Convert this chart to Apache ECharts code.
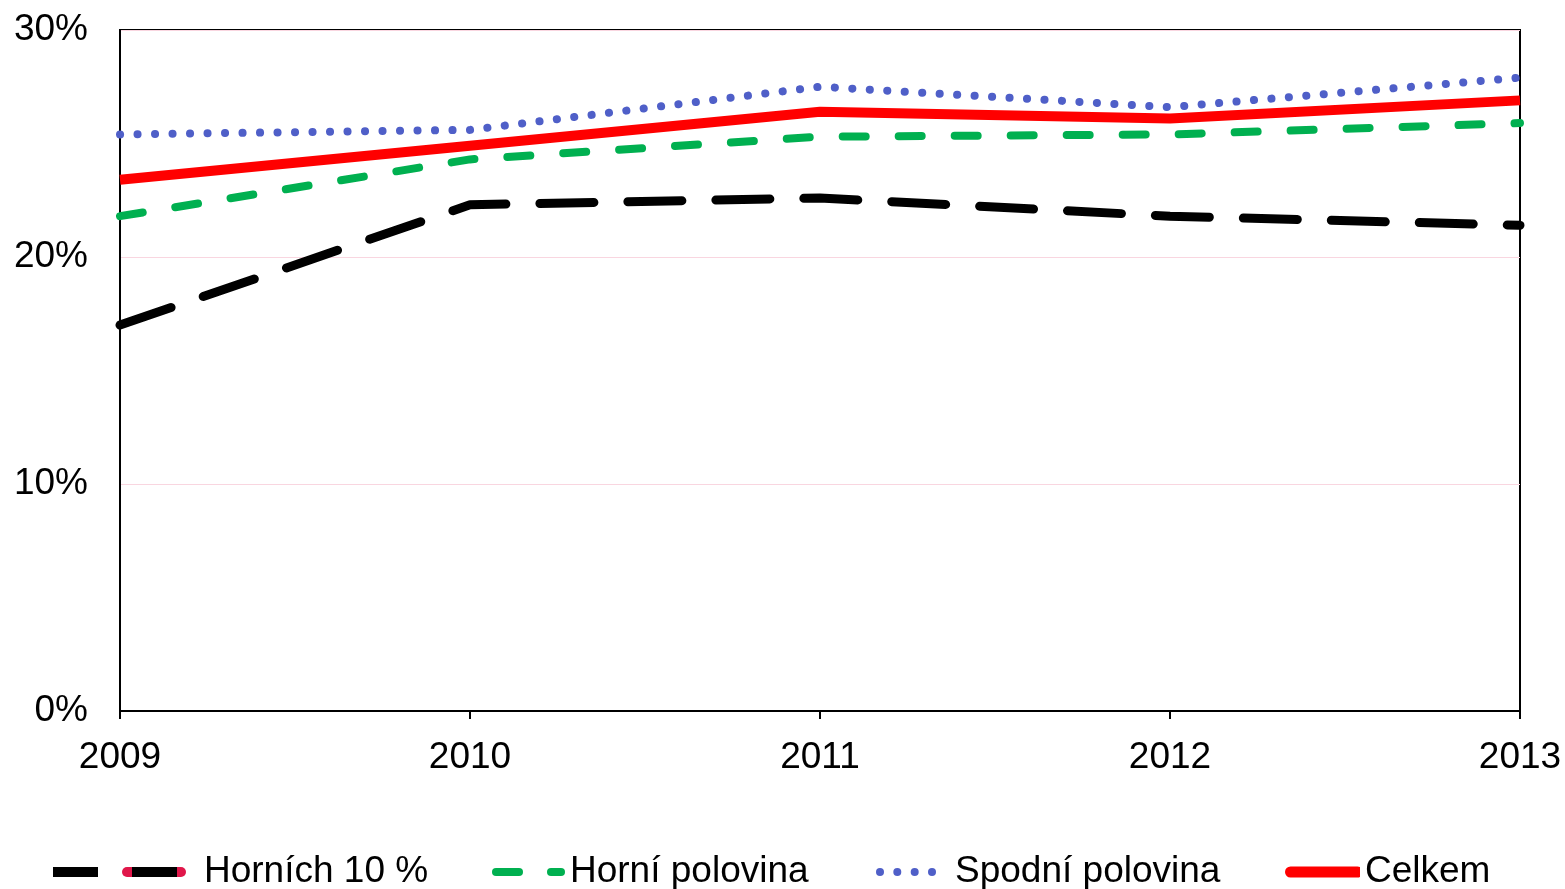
<!DOCTYPE html>
<html>
<head>
<meta charset="utf-8">
<script src="https://cdn.jsdelivr.net/npm/echarts@6/dist/echarts.min.js"></script>
<style>
  html, body { margin: 0; padding: 0; background: #fff; }
  #chart { width: 1565px; height: 889px; }
</style>
</head>
<body>
<div id="chart"></div>
<script>
// data (percent)
const years = ['2009', '2010', '2011', '2012', '2013']
const top10 = [17.0, 22.3, 22.6, 21.8, 21.4]
const upperHalf = [21.8, 24.3, 25.3, 25.4, 25.9]
const lowerHalf = [25.4, 25.6, 27.5, 26.6, 27.9]
const total = [23.4, 24.9, 26.4, 26.1, 26.9]

const font = 'Liberation Sans, Arial, sans-serif'

// legend icons drawn as little svg images
function svgIcon(w, h, body) {
  const svg = '<svg xmlns="http://www.w3.org/2000/svg" width="' + w + '" height="' + h +
    '" viewBox="0 0 ' + w + ' ' + h + '">' + body + '</svg>'
  return 'image://data:image/svg+xml;charset=utf-8,' + encodeURIComponent(svg)
}

const icons = {
  top10: svgIcon(146, 12,
    '<rect x="0" y="1" width="45" height="10" fill="#000"/>' +
    '<rect x="69" y="1" width="64" height="10" rx="5" fill="#e0174a"/>' +
    '<rect x="79" y="1" width="45" height="10" fill="#000"/>'),
  upper: svgIcon(73, 12,
    '<rect x="0" y="2" width="31" height="8" rx="4" fill="#00b050"/>' +
    '<rect x="55" y="2" width="18" height="8" rx="4" fill="#00b050"/>'),
  lower: svgIcon(74, 12,
    '<circle cx="4" cy="6" r="4" fill="#4f5fc8"/>' +
    '<circle cx="21.3" cy="6" r="4" fill="#4f5fc8"/>' +
    '<circle cx="38.7" cy="6" r="4" fill="#4f5fc8"/>' +
    '<circle cx="56" cy="6" r="4" fill="#4f5fc8"/>'),
  total: svgIcon(75, 12,
    '<rect x="0" y="0.5" width="78" height="11" rx="5.5" fill="#ff0000"/>')
}

function legendAt(left, name, icon, w) {
  return {
    left: left,
    top: 852,
    padding: 0,
    selectedMode: false,
    itemWidth: w,
    itemHeight: 12,
    icon: icon,
    textStyle: { fontSize: 37, lineHeight: 40, color: '#000', fontFamily: font },
    data: [name]
  }
}

const chart = echarts.init(document.getElementById('chart'))

chart.setOption({
  animation: false,
  textStyle: { fontFamily: font },
  grid: {
    left: 120,
    right: 45,
    top: 30,
    bottom: 178,
    show: true,
    borderColor: '#000',
    borderWidth: 2,
    backgroundColor: 'transparent'
  },
  legend: [
    legendAt(53, 'Horních 10 %', icons.top10, 146),
    legendAt(492, 'Horní polovina', icons.upper, 73),
    legendAt(876, 'Spodní polovina', icons.lower, 74),
    legendAt(1285, 'Celkem', icons.total, 75)
  ],
  xAxis: {
    type: 'category',
    data: years,
    boundaryGap: false,
    axisLine: { lineStyle: { color: '#000', width: 2 } },
    axisTick: { show: true, length: 8, lineStyle: { color: '#000', width: 2 } },
    axisLabel: { fontSize: 37, color: '#000', margin: 28, fontFamily: font },
    splitLine: { show: false }
  },
  yAxis: {
    type: 'value',
    min: 0,
    max: 30,
    interval: 10,
    axisLine: { show: true, lineStyle: { color: '#000', width: 2 } },
    axisTick: { show: false },
    axisLabel: {
      fontSize: 37,
      color: '#000',
      margin: 32,
      fontFamily: font,
      formatter: v => v + '%'
    },
    splitLine: { show: true, lineStyle: { color: '#f9d6e0', width: 1 } }
  },
  series: [
    {
      name: 'Horních 10 %',
      type: 'line',
      data: top10,
      symbol: 'none',
      color: '#000',
      lineStyle: { color: '#000', width: 9, type: [54, 34], cap: 'round' }
    },
    {
      name: 'Horní polovina',
      type: 'line',
      data: upperHalf,
      symbol: 'none',
      color: '#00b050',
      lineStyle: { color: '#00b050', width: 8, type: [23, 33], cap: 'round' }
    },
    {
      name: 'Spodní polovina',
      type: 'line',
      data: lowerHalf,
      symbol: 'none',
      color: '#4f5fc8',
      lineStyle: { color: '#4f5fc8', width: 8, type: [0.1, 17.4], cap: 'round' }
    },
    {
      name: 'Celkem',
      type: 'line',
      data: total,
      symbol: 'none',
      color: '#ff0000',
      lineStyle: { color: '#ff0000', width: 10 }
    }
  ]
})
</script>
</body>
</html>
